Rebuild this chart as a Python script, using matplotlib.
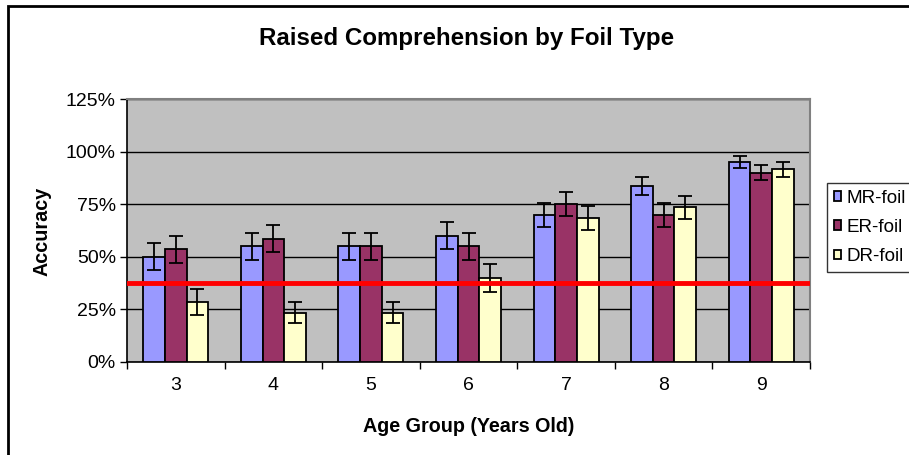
import numpy as np
import matplotlib.pyplot as plt
from matplotlib.patches import Rectangle
from matplotlib.ticker import FixedLocator, PercentFormatter

plt.rcParams['font.family'] = ['Liberation Sans', 'DejaVu Sans']

# datos
edades = ['3', '4', '5', '6', '7', '8', '9']
mr_foil = [0.50, 0.55, 0.55, 0.60, 0.70, 0.835, 0.95]
er_foil = [0.535, 0.585, 0.55, 0.55, 0.75, 0.70, 0.90]
dr_foil = [0.285, 0.235, 0.235, 0.40, 0.685, 0.735, 0.915]
mr_err = [0.065, 0.065, 0.065, 0.065, 0.058, 0.043, 0.03]
er_err = [0.066, 0.064, 0.065, 0.065, 0.058, 0.058, 0.035]
dr_err = [0.06, 0.05, 0.05, 0.065, 0.056, 0.056, 0.035]
azar = 0.375  # linea roja de referencia

series = [
    ('MR-foil', mr_foil, mr_err, '#9999FF'),
    ('ER-foil', er_foil, er_err, '#993366'),
    ('DR-foil', dr_foil, dr_err, '#FFFFCC'),
]

W, H = 909, 455
fig = plt.figure(figsize=(W / 100, H / 100), dpi=100)
ax = fig.add_axes([127 / W, 1 - 362 / H, (810 - 127) / W, (362 - 99) / H])
ax.set_facecolor('#C0C0C0')

x = np.arange(len(edades))
ancho = 0.222
for i, (nombre, vals, errs, color) in enumerate(series):
    pos = x + (i - 1) * ancho
    ax.bar(pos, vals, width=ancho, color=color, edgecolor='black',
           linewidth=1.3, label=nombre, zorder=3)
    ax.errorbar(pos, vals, yerr=errs, fmt='none', ecolor='black',
                elinewidth=1.3, capsize=5, capthick=1.3, zorder=4)

ax.axhline(azar, color='#FF0000', linewidth=3.5, zorder=5)

ax.set_xlim(-0.5, len(edades) - 0.5)
ax.set_ylim(0, 1.25)
ax.set_yticks(np.arange(0, 1.26, 0.25))
ax.yaxis.set_major_formatter(PercentFormatter(1.0, decimals=0))
ax.yaxis.grid(True, color='black', linewidth=1.0, zorder=1)
ax.set_axisbelow(True)

ax.set_xticks(x)
ax.set_xticklabels(edades)
ax.xaxis.set_minor_locator(FixedLocator(np.arange(-0.5, len(edades), 1.0)))
ax.tick_params(axis='x', which='major', length=0, pad=11, labelsize=14)
ax.tick_params(axis='x', which='minor', length=5, width=1, direction='out')
ax.tick_params(axis='y', length=5, width=1, direction='out', pad=3, labelsize=14)

for lado in ['top', 'right']:
    ax.spines[lado].set_color('#808080')
    ax.spines[lado].set_linewidth(1.5)
for lado in ['left', 'bottom']:
    ax.spines[lado].set_color('black')
    ax.spines[lado].set_linewidth(1.2)

fig.text(467 / W, 1 - 38 / H, 'Raised Comprehension by Foil Type',
         ha='center', va='center', fontsize=17.4, fontweight='bold')
fig.text(469 / W, 1 - 426 / H, 'Age Group (Years Old)',
         ha='center', va='center', fontsize=14.2, fontweight='bold')
fig.text(42 / W, 1 - 231 / H, 'Accuracy', rotation=90,
         ha='center', va='center', fontsize=14.2, fontweight='bold')

# marco exterior del grafico
fig.patches.append(Rectangle((8 / W, -0.1), 1.2, 1.1 - 6 / H,
                             transform=fig.transFigure, fill=False,
                             edgecolor='black', linewidth=2))

leg = fig.legend(loc='upper left', bbox_to_anchor=(827 / W, 1 - 183 / H),
                 frameon=True, fancybox=False, edgecolor='black',
                 fontsize=13.6, handlelength=0.4, handleheight=0.4,
                 handletextpad=0.3, labelspacing=0.65, borderpad=0.35,
                 borderaxespad=0)
leg.get_frame().set_linewidth(1.0)

fig.savefig('out.png', dpi=100)
